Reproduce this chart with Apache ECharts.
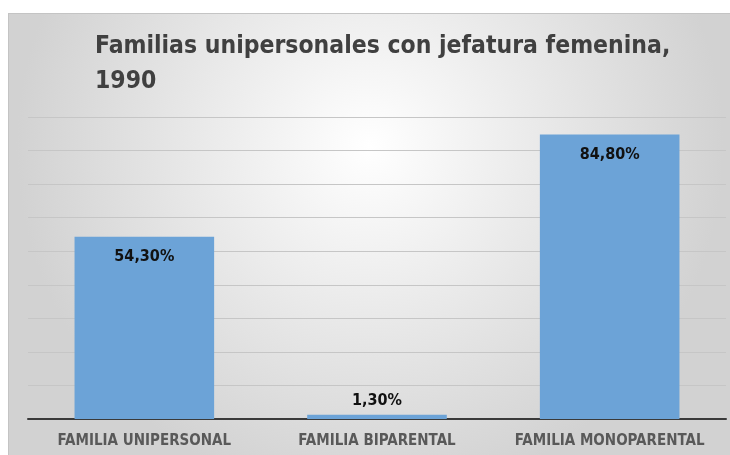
<!DOCTYPE html>
<html>
<head>
<meta charset="utf-8">
<script src="https://cdn.jsdelivr.net/npm/echarts@6/dist/echarts.min.js"></script>
<style>
  html, body { margin: 0; padding: 0; background: #fff; }
  #chart {
    position: absolute; left: 8px; top: 13px;
    width: 722px; height: 442px;
    border-top: 1px solid #c4c4c4; border-left: 1px solid #c4c4c4;
  }
</style>
</head>
<body>
<div id="chart"></div>
<script>
const titleText = "Familias unipersonales con jefatura femenina,\n1990";
const categories = ["FAMILIA UNIPERSONAL", "FAMILIA BIPARENTAL", "FAMILIA MONOPARENTAL"];
const values = [54.3, 1.3, 84.8];
const narrow = "'Liberation Sans Narrow', 'DejaVu Sans Condensed', sans-serif";

let myChart = echarts.init(document.getElementById("chart"));
myChart.setOption({
  backgroundColor: new echarts.graphic.RadialGradient(0.5, 0.3, 0.8, [
    { offset: 0, color: "#ffffff" },
    { offset: 1, color: "#d2d2d2" }
  ]),
  title: {
    text: titleText,
    left: 81,
    top: 10,
    textStyle: {
      fontFamily: narrow,
      fontWeight: "bold",
      fontSize: 24.5,
      lineHeight: 35,
      color: "#404040"
    }
  },
  grid: {
    top: 103,
    left: 19,
    right: 5,
    bottom: 37
  },
  xAxis: {
    type: "category",
    data: categories,
    axisTick: { show: false },
    axisLine: { lineStyle: { color: "#3a3a3a", width: 2 } },
    axisLabel: {
      interval: 0,
      margin: 15,
      fontFamily: narrow,
      fontWeight: "bold",
      fontSize: 15,
      color: "#595959"
    }
  },
  yAxis: {
    type: "value",
    min: 0,
    max: 90,
    interval: 10,
    axisLabel: { show: false },
    axisLine: { show: false },
    axisTick: { show: false },
    splitLine: { lineStyle: { color: "#c6c6c6", width: 1 } }
  },
  series: [
    {
      type: "bar",
      // tiny bar gets its label above it
      data: values.map((v) => v < 5 ? { value: v, label: { position: "top", distance: 6 } } : v),
      barWidth: "60%",
      itemStyle: { color: "#6ca3d7" },
      label: {
        show: true,
        position: "insideTop",
        distance: 12,
        formatter: (p) => p.value.toFixed(2).replace(".", ",") + "%",
        fontFamily: narrow,
        fontWeight: "bold",
        fontSize: 16,
        color: "#111"
      }
    }
  ]
});
</script>
</body>
</html>
